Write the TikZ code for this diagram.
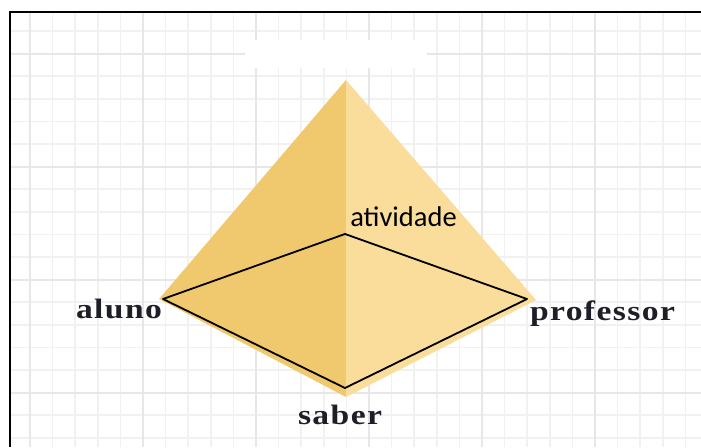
\documentclass[tikz,border=0pt]{standalone}
\usepackage{fontspec}
\usepackage{xcolor}
\usepackage{tikz}
\newfontfamily\rotulofont[FakeStretch=1.2,LetterSpace=5]{Liberation Serif}
\newfontfamily\vertexfont{Carlito}
\definecolor{PyramidDark}{HTML}{F0C96E}
\definecolor{PyramidLight}{HTML}{FADC9B}
\definecolor{GridMinor}{HTML}{F1F1F1}
\definecolor{GridMajor}{HTML}{E7E7E7}
\definecolor{LabelInk}{HTML}{1E1E28}

\begin{document}
\begin{tikzpicture}[x=1pt,y=-1pt]
          \useasboundingbox (0,0) rectangle (701,447);
          \begin{scope}
            \clip (10,11.5) rectangle (701,447);
            \foreach \k in {0,...,30}
              \draw[GridMinor, line width=1.5pt] ({30+22.6*\k},0) -- ({30+22.6*\k},447);
            \foreach \k in {0,...,19}
              \draw[GridMinor, line width=1.5pt] (0,{8.4+22.6*\k}) -- (701,{8.4+22.6*\k});
            \foreach \m in {0,...,6}
              \draw[GridMajor, line width=2pt] ({30+113*\m},0) -- ({30+113*\m},447);
            \foreach \m in {0,...,3}
              \draw[GridMajor, line width=2pt] (0,{53.6+113*\m}) -- (701,{53.6+113*\m});
          \end{scope}
          \draw[line width=2pt] (10,447) -- (10,11.5) -- (701,11.5);
          \fill[white] (245,40) rectangle (427,68);
          \coordinate (apex) at (346,80);
          \coordinate (leftTip) at (159,299);
          \coordinate (rightTip) at (536,300);
          \coordinate (bottomTip) at (346,397);
          \fill[PyramidDark] (apex) -- (leftTip) -- (bottomTip) -- cycle;
          \fill[PyramidLight] (apex) -- (rightTip) -- (bottomTip) -- cycle;
          \coordinate (alunoPt) at (163,299);
          \coordinate (atividadePt) at (345,234);
          \coordinate (professorPt) at (527,299);
          \coordinate (saberPt) at (345,388);
          \draw[line width=1.8pt, line join=round] (alunoPt) -- (atividadePt) -- (professorPt) -- (saberPt) -- cycle;
          \node[text=LabelInk, anchor=base, font=\rotulofont\fontsize{28}{32}\selectfont\bfseries] (aluno) at (119,318) {aluno};
          \node[text=LabelInk, anchor=base, font=\rotulofont\fontsize{28}{32}\selectfont\bfseries] (professor) at (602.5,320) {professor};
          \node[text=LabelInk, anchor=base, font=\rotulofont\fontsize{28}{32}\selectfont\bfseries] (saber) at (340,424) {saber};
          \node[text=black, anchor=base, font=\vertexfont\fontsize{28.5}{32}\selectfont] (atividade) at (403.5,226) {atividade};
        \end{tikzpicture}
\end{document}
